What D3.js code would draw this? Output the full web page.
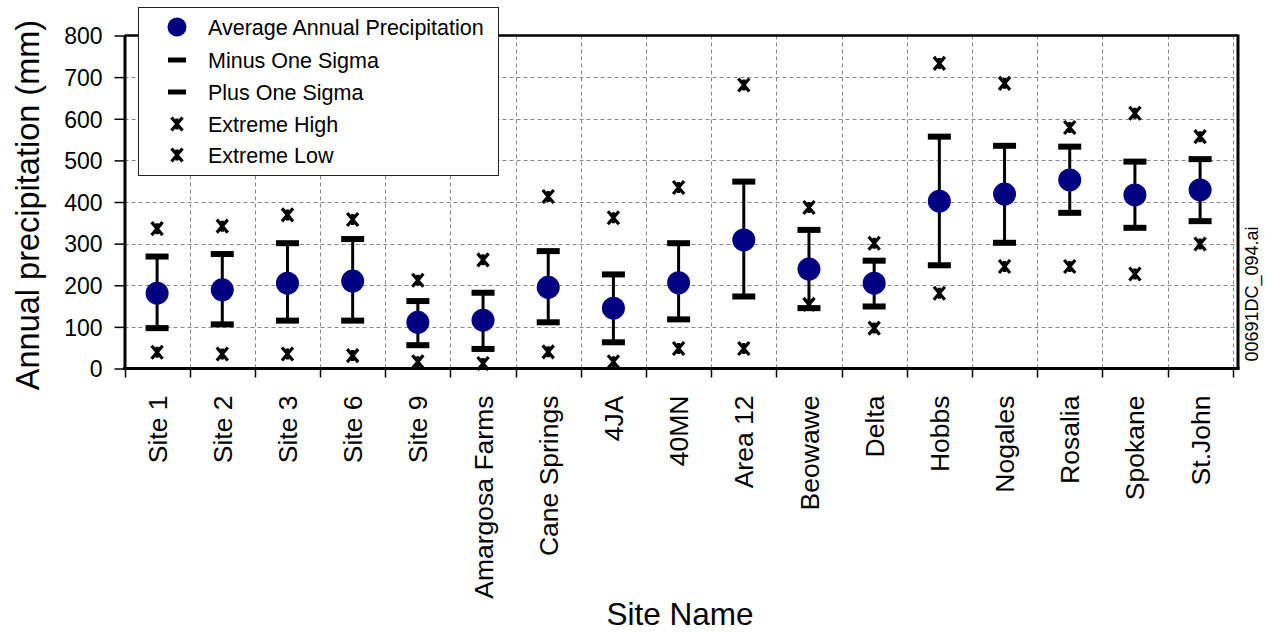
<!DOCTYPE html>
<html>
<head>
<meta charset="utf-8">
<script src="https://cdn.jsdelivr.net/npm/d3@7"></script>
<style>
  html, body { margin: 0; padding: 0; background: #fff; }
  svg { display: block; font-family: "Liberation Sans", Arial, sans-serif; }
</style>
</head>
<body>
<svg id="chart" width="1267" height="632"></svg>
<script>
const sites = ["Site 1","Site 2","Site 3","Site 6","Site 9","Amargosa Farms","Cane Springs","4JA","40MN","Area 12","Beowawe","Delta","Hobbs","Nogales","Rosalia","Spokane","St.John"];
const avgPrecip = [181,189,205,210,111,116,195,145,206,309,239,205,402,419,453,417,429];
const minusSigma = [97,106,115,115,56,47,111,63,118,173,145,149,248,302,374,338,354];
const plusSigma = [269,275,301,311,162,182,282,226,301,449,333,259,557,535,533,497,503];
const extremeHigh = [336,342,369,358,212,261,413,362,435,681,387,301,733,685,579,613,557];
const extremeLow = [39,35,35,31,16,12,40,16,48,48,154,97,181,245,245,227,299];
const yTicks = [0,100,200,300,400,500,600,700,800];
const legendLabels = ["Average Annual Precipitation","Minus One Sigma","Plus One Sigma","Extreme High","Extreme Low"];

const data = sites.map((s, i) => ({
  site: s, avg: avgPrecip[i], lo: minusSigma[i], hi: plusSigma[i], xh: extremeHigh[i], xl: extremeLow[i]
}));

const svg = d3.select("#chart");
const pLeft = 124.5, pRight = 1232.7, frameRight = 1238, pTop = 35.5, pBottom = 368.5;
const NAVY = "#000080";

const x = d3.scaleBand().domain(sites).range([pLeft, pRight]).paddingInner(0).paddingOuter(0);
const y = d3.scaleLinear().domain([0, 800]).range([pBottom, pTop]);

// gridlines
const grid = svg.append("g").attr("stroke", "#888").attr("stroke-width", 1).attr("stroke-dasharray", "4,3");
grid.selectAll("line.h").data(yTicks.filter(v => v > 0 && v < 800)).join("line")
  .attr("x1", pLeft).attr("x2", frameRight)
  .attr("y1", d => Math.round(y(d)) + 0.5).attr("y2", d => Math.round(y(d)) + 0.5);
const bounds = sites.map(s => x(s)).concat([pRight]);
grid.selectAll("line.v").data(bounds.slice(1)).join("line")
  .attr("x1", d => Math.round(d) + 0.5).attr("x2", d => Math.round(d) + 0.5)
  .attr("y1", pTop).attr("y2", pBottom);

// x tick marks at band boundaries
svg.append("g").attr("stroke", "#000").attr("stroke-width", 1.5)
  .selectAll("line").data(bounds).join("line")
  .attr("x1", d => Math.round(d) + 0.5).attr("x2", d => Math.round(d) + 0.5)
  .attr("y1", pBottom).attr("y2", pBottom + 9);

// frame
svg.append("line").attr("x1", pLeft).attr("x2", frameRight).attr("y1", pTop).attr("y2", pTop)
  .attr("stroke", "#000").attr("stroke-width", 2.5);
svg.append("line").attr("x1", frameRight).attr("x2", frameRight).attr("y1", pTop - 1).attr("y2", pBottom + 1.5)
  .attr("stroke", "#000").attr("stroke-width", 3);
svg.append("line").attr("x1", pLeft - 1.5).attr("x2", frameRight + 1.5).attr("y1", pBottom).attr("y2", pBottom)
  .attr("stroke", "#000").attr("stroke-width", 3);

// y axis
const yAxis = svg.append("g").attr("transform", `translate(${pLeft},0)`)
  .call(d3.axisLeft(y).tickValues(yTicks).tickSize(10).tickPadding(12).tickSizeOuter(0));
yAxis.select(".domain").attr("stroke-width", 3);
yAxis.selectAll(".tick line").attr("stroke-width", 1.5);
yAxis.selectAll(".tick text").attr("font-size", 23).attr("fill", "#000")
  .attr("font-family", "Liberation Sans, Arial, sans-serif").attr("dy", "0.36em");

// x axis labels
const xAxis = svg.append("g").attr("transform", `translate(0,${pBottom})`)
  .call(d3.axisBottom(x).tickSize(0).tickPadding(0));
xAxis.select(".domain").remove();
xAxis.selectAll(".tick text")
  .attr("font-size", 26.5).attr("fill", "#000")
  .attr("font-family", "Liberation Sans, Arial, sans-serif")
  .attr("text-anchor", "end")
  .attr("transform", "translate(0,27) rotate(-90)")
  .attr("x", 0).attr("y", 0).attr("dy", "0.36em");

// axis titles
svg.append("text").attr("transform", "translate(39,205) rotate(-90)")
  .attr("text-anchor", "middle").attr("font-size", 32.5).text("Annual precipitation (mm)");
svg.append("text").attr("x", 680).attr("y", 625).attr("text-anchor", "middle")
  .attr("font-size", 31.5).text("Site Name");
svg.append("text").attr("transform", "translate(1258,294) rotate(-90)")
  .attr("text-anchor", "middle").attr("font-size", 18).text("00691DC_094.ai");

// marker helpers
function asterisk(g, cx, cy, w, h) {
  g.append("path")
    .attr("d", `M${cx - w},${cy - h}L${cx + w},${cy + h}M${cx + w},${cy - h}L${cx - w},${cy + h}M${cx},${cy - h + 1}L${cx},${cy + h - 1}`)
    .attr("stroke", "#000").attr("stroke-width", 3.2).attr("fill", "none");
}

const marks = svg.append("g");
data.forEach(d => {
  const cx = x(d.site) + x.bandwidth() / 2;
  const g = marks.append("g");
  g.append("line").attr("x1", cx).attr("x2", cx).attr("y1", y(d.lo)).attr("y2", y(d.hi))
    .attr("stroke", "#000").attr("stroke-width", 3);
  [d.lo, d.hi].forEach(v => {
    g.append("rect").attr("x", cx - 11.5).attr("y", y(v) - 3).attr("width", 23).attr("height", 6).attr("fill", "#000");
  });
  asterisk(g, cx, y(d.xh), 5.5, 6.5);
  asterisk(g, cx, y(d.xl), 5.5, 6.5);
  g.append("circle").attr("cx", cx).attr("cy", y(d.avg)).attr("r", 11.5).attr("fill", NAVY);
});

// legend
const lg = svg.append("g");
lg.append("rect").attr("x", 138.5).attr("y", 7.5).attr("width", 360).attr("height", 168)
  .attr("fill", "#fff").attr("stroke", "#222").attr("stroke-width", 1);
const rowY = [27, 60, 92, 124, 155];
const symX = 177;
legendLabels.forEach((lab, i) => {
  const cy = rowY[i];
  if (i === 0) lg.append("circle").attr("cx", symX).attr("cy", cy).attr("r", 9.5).attr("fill", NAVY);
  else if (i === 1 || i === 2) lg.append("rect").attr("x", symX - 9).attr("y", cy - 2.5).attr("width", 18).attr("height", 5).attr("fill", "#000");
  else asterisk(lg, symX, cy, 5.5, 6.5);
  lg.append("text").attr("x", 208).attr("y", cy).attr("dy", "0.36em").attr("font-size", 21.5).text(lab);
});
</script>
</body>
</html>
